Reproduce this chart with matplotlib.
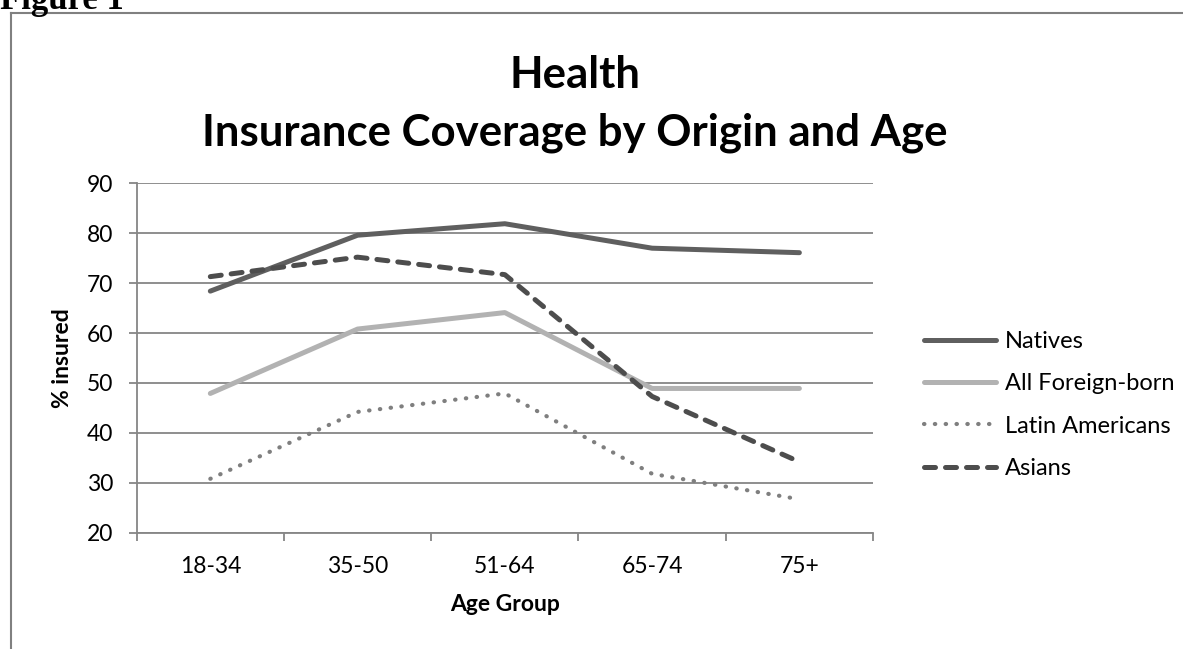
import numpy as np
import matplotlib.pyplot as plt
from matplotlib.lines import Line2D

# data
age_groups = ['18-34', '35-50', '51-64', '65-74', '75+']
natives = [68.4, 79.6, 81.9, 77.0, 76.1]
foreign_born = [47.9, 60.8, 64.1, 48.9, 48.9]
latin_americans = [30.8, 44.2, 47.9, 31.8, 26.7]
asians = [71.3, 75.2, 71.7, 47.3, 34.2]

plt.rcParams['font.family'] = ['Lato', 'DejaVu Sans']

W, H = 1183, 649
fig = plt.figure(figsize=(W / 100, H / 100), dpi=100)

# frame around the chart
fig.add_artist(Line2D([11 / W, 11 / W], [0, 1 - 13 / H], color='#808080', lw=1.5))
fig.add_artist(Line2D([11 / W, 1], [1 - 13 / H, 1 - 13 / H], color='#808080', lw=1.5))
fig.text(0 / W, 1 - 9 / H, 'Figure 1', fontsize=25, fontweight='bold',
         family='Liberation Serif', va='baseline', ha='left')

ax = fig.add_axes([136.7 / W, 1 - 532.7 / H, (873 - 136.7) / W, (532.7 - 183.3) / H])

x = np.arange(len(age_groups))
ax.plot(x, natives, color='#5f5f5f', lw=3.6, solid_capstyle='round', label='Natives')
ax.plot(x, foreign_born, color='#b2b2b2', lw=3.6, solid_capstyle='round', label='All Foreign-born')
ax.plot(x, latin_americans, color='#7f7f7f', lw=3.0, linestyle=(0, (0.1, 2.5)),
        dash_capstyle='round', label='Latin Americans')
ax.plot(x, asians, color='#4d4d4d', lw=3.6, linestyle=(0, (2.2, 2.0)),
        dash_capstyle='round', label='Asians')

ax.set_xlim(-0.5, len(age_groups) - 0.5)
ax.set_ylim(20, 90)
ax.set_yticks(range(20, 91, 10))
ax.set_xticks(x)
ax.set_xticklabels(age_groups)
ax.set_xticks(np.arange(-0.5, len(age_groups)), minor=True)
ax.tick_params(axis='x', which='major', length=0, pad=17, labelsize=16.5)
ax.tick_params(axis='x', which='minor', length=6, width=1.3, color='#868686', direction='out')
ax.tick_params(axis='y', length=6, width=1.3, color='#868686', labelsize=16.5, pad=11)
ax.grid(axis='y', color='#868686', lw=1.3)
ax.set_axisbelow(True)
for s in ['top', 'right']:
    ax.spines[s].set_visible(False)
for s in ['left', 'bottom']:
    ax.spines[s].set_color('#868686')
    ax.spines[s].set_linewidth(1.3)

ax.set_xlabel('Age Group', fontsize=16.5, fontweight='bold', labelpad=12)
ax.set_ylabel('% insured', fontsize=16.5, fontweight='bold', labelpad=10)

fig.text(575 / W, 1 - 75 / H, 'Health', fontsize=31.5, fontweight='bold', ha='center', va='center')
fig.text(575 / W, 1 - 133 / H, 'Insurance Coverage by Origin and Age', fontsize=31.5,
         fontweight='bold', ha='center', va='center')

ax.legend(loc='center left', bbox_to_anchor=(903 / W, 1 - 405 / H),
          bbox_transform=fig.transFigure, frameon=False, fontsize=17,
          handlelength=3.05, labelspacing=0.9, handletextpad=0.35)

fig.savefig('out.png', dpi=100)
